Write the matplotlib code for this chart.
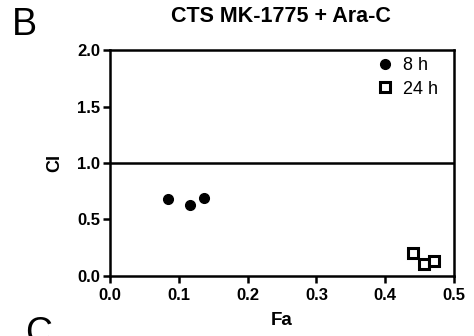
import matplotlib
matplotlib.use('Agg')
import matplotlib.pyplot as plt

plt.rcParams['font.family'] = ['Liberation Sans', 'DejaVu Sans']

# data
fa_8h = [0.084, 0.117, 0.136]
ci_8h = [0.68, 0.63, 0.69]
fa_24h = [0.441, 0.457, 0.471]
ci_24h = [0.20, 0.106, 0.128]

xticks = [0.0, 0.1, 0.2, 0.3, 0.4, 0.5]
yticks = [0.0, 0.5, 1.0, 1.5, 2.0]

fig = plt.figure(figsize=(4.74, 3.36), dpi=100)
ax = fig.add_axes([0.232, 0.179, 0.726, 0.672])

ax.axhline(1.0, color='black', lw=1.8, zorder=1)
ax.plot(fa_8h, ci_8h, 'o', color='black', ms=7, label='8 h', zorder=3)
ax.plot(fa_24h, ci_24h, 's', mfc='white', mec='black', mew=2.2, ms=7.5,
        label='24 h', zorder=3, clip_on=False)

ax.set_xlim(0, 0.5)
ax.set_ylim(0, 2.0)
ax.set_xticks(xticks)
ax.set_yticks(yticks)
ax.set_xticklabels([f'{v:.1f}' for v in xticks], fontweight='bold', fontsize=12)
ax.set_yticklabels([f'{v:.1f}' for v in yticks], fontweight='bold', fontsize=12)
ax.tick_params(direction='out', length=5, width=1.8, pad=2)
ax.tick_params(axis='x', pad=4)
for s in ax.spines.values():
    s.set_linewidth(1.8)

ax.set_xlabel('Fa', fontweight='bold', fontsize=13.5, labelpad=6)
ax.set_ylabel('CI', fontweight='bold', fontsize=13, labelpad=4)
ax.yaxis.set_label_coords(-0.135, 0.5)

leg = ax.legend(loc='upper right', bbox_to_anchor=(0.975, 1.0), frameon=False,
                fontsize=13, handletextpad=0.5, borderaxespad=0.0,
                labelspacing=0.35, handlelength=1.0)

fig.text(0.592, 0.95, 'CTS MK-1775 + Ara-C', ha='center', va='center',
         fontweight='bold', fontsize=15.5)
fig.text(0.026, 0.925, 'B', ha='left', va='center', fontsize=27)
fig.text(0.052, 0.005, 'C', ha='left', va='center', fontsize=27)

fig.savefig('out.png', dpi=100)
